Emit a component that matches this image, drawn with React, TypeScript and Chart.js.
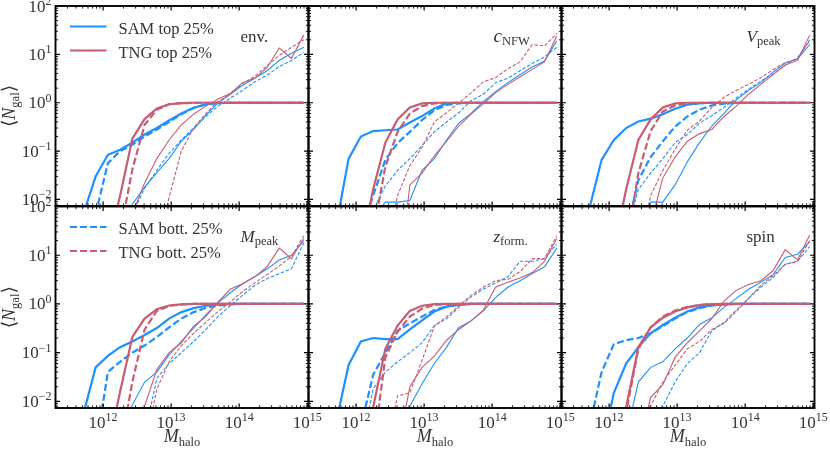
import { useEffect, useRef } from 'react';
import { Chart, registerables } from 'chart.js';

Chart.register(...registerables);

const _ = null;

// halo mass bin centres, log10(M_halo)
const logMass = [11.35, 11.53, 11.71, 11.89, 12.07, 12.25, 12.43, 12.61, 12.79, 12.97, 13.15, 13.33, 13.51, 13.69, 13.87, 14.05, 14.23, 14.41, 14.59, 14.77, 14.95];

const xTickPowers = [12, 13, 14, 15];
const yTickPowers = [-2, -1, 0, 1, 2];

// env.
const envSamTopCen = [_, _, 0.005, 0.03, 0.084, 0.107, 0.15, 0.22, 0.3, 0.43, 0.6, 0.79, 0.93, 0.98, 1, 1, 1, 1, 1, 1, 1];
const envSamBotCen = [_, _, _, 0.005, 0.056, 0.1, 0.135, 0.2, 0.28, 0.4, 0.58, 0.78, 0.92, 0.98, 1, 1, 1, 1, 1, 1, 1];
const envTngTopCen = [_, _, _, _, 0.001, 0.012, 0.18, 0.46, 0.76, 0.93, 0.98, 1, 1, 1, 1, 1, 1, 1, 1, 1, 1];
const envTngBotCen = [_, _, _, _, _, 0.002, 0.042, 0.35, 0.72, 0.93, 0.98, 1, 1, 1, 1, 1, 1, 1, 1, 1, 1];
const envSamTopSat = [_, _, _, _, _, 0.002, 0.008, 0.018, 0.036, 0.07, 0.16, 0.28, 0.55, 1.0, 1.5, 2.3, 3.2, 4.6, 7.5, 10.5, 14];
const envSamBotSat = [_, _, _, _, _, 0.001, 0.005, 0.017, 0.04, 0.09, 0.17, 0.3, 0.52, 0.85, 1.25, 1.8, 2.7, 3.7, 5.6, 7.5, 11];
const envTngTopSat = [_, _, _, _, _, 0.001, 0.005, 0.022, 0.07, 0.17, 0.35, 0.58, 0.85, 1.2, 1.55, 2.6, 3.2, 5.3, 13.5, 8.3, 25];
const envTngBotSat = [_, _, _, _, _, _, _, _, 0.0008, 0.011, 0.1, 0.3, 0.6, 1.05, 1.5, 2.5, 3.5, 5.8, 9.5, 14, 20];

// c_NFW
const cSamTopCen = [_, _, 0.003, 0.07, 0.2, 0.26, 0.27, 0.28, 0.39, 0.53, 0.76, 0.97, 1, 1, 1, 1, 1, 1, 1, 1, 1];
const cSamBotCen = [_, _, _, _, 0.002, 0.012, 0.066, 0.146, 0.25, 0.44, 0.7, 0.9, 0.97, 1, 1, 1, 1, 1, 1, 1, 1];
const cTngTopCen = [_, _, _, _, 0.001, 0.016, 0.15, 0.45, 0.8, 0.97, 1, 1, 1, 1, 1, 1, 1, 1, 1, 1, 1];
const cTngBotCen = [_, _, _, _, _, 0.002, 0.048, 0.25, 0.6, 0.85, 0.97, 1, 1, 1, 1, 1, 1, 1, 1, 1, 1];
const cSamTopSat = [_, _, _, _, _, 0.004, 0.0088, 0.0088, 0.0095, 0.04, 0.07, 0.17, 0.38, 0.6, 1.05, 1.7, 2.6, 3.8, 5.5, 7.3, 19];
const cSamBotSat = [_, _, _, _, 0.001, 0.006, 0.019, 0.04, 0.07, 0.13, 0.25, 0.4, 0.62, 1.1, 1.5, 2.6, 3.2, 4.6, 6.5, 8.8, 14];
const cTngTopSat = [_, _, _, _, _, _, _, 0.0001, 0.02, 0.035, 0.08, 0.16, 0.33, 0.58, 0.95, 1.6, 2.4, 3.4, 4.9, 7.0, 24];
const cTngBotSat = [_, _, _, _, _, _, 0.001, 0.012, 0.05, 0.12, 0.4, 0.62, 1.0, 1.6, 2.7, 3.3, 5.0, 7.0, 16, 15, 27];

// V_peak
const vSamTopCen = [_, _, 0.0065, 0.066, 0.17, 0.3, 0.41, 0.47, 0.58, 0.75, 0.91, 0.97, 1, 1, 1, 1, 1, 1, 1, 1, 1];
const vSamBotCen = [_, _, _, _, _, 0.002, 0.025, 0.075, 0.16, 0.32, 0.52, 0.72, 0.88, 0.96, 0.99, 1, 1, 1, 1, 1, 1];
const vTngTopCen = [_, _, _, _, 0.001, 0.016, 0.17, 0.45, 0.8, 0.97, 1, 1, 1, 1, 1, 1, 1, 1, 1, 1, 1];
const vTngBotCen = [_, _, _, _, _, 0.001, 0.035, 0.26, 0.66, 0.88, 0.97, 1, 1, 1, 1, 1, 1, 1, 1, 1, 1];
const vSamTopSat = [_, _, _, _, _, _, 0.003, 0.0088, 0.0088, 0.02, 0.06, 0.15, 0.33, 0.6, 1.15, 1.8, 2.6, 4.3, 6.6, 8.0, 16];
const vSamBotSat = [_, _, _, _, _, 0.002, 0.016, 0.035, 0.07, 0.15, 0.22, 0.38, 0.54, 0.8, 1.25, 1.9, 2.8, 3.9, 6.0, 8.5, 19];
const vTngTopSat = [_, _, _, _, _, _, _, 0.003, 0.028, 0.075, 0.16, 0.23, 0.28, 0.52, 0.85, 1.5, 2.4, 3.8, 6.0, 7.5, 25];
const vTngBotSat = [_, _, _, _, _, _, 0.0008, 0.012, 0.04, 0.11, 0.27, 0.42, 0.8, 1.3, 1.8, 2.4, 3.3, 4.8, 6.8, 8.0, 20];

// M_peak
const mSamTopCen = [_, _, 0.0055, 0.05, 0.086, 0.13, 0.17, 0.23, 0.32, 0.5, 0.68, 0.82, 0.92, 0.97, 1, 1, 1, 1, 1, 1, 1];
const mSamBotCen = [_, _, _, 0.001, 0.04, 0.065, 0.1, 0.14, 0.21, 0.33, 0.5, 0.68, 0.83, 0.93, 0.98, 1, 1, 1, 1, 1, 1];
const mTngTopCen = [_, _, _, _, 0.001, 0.016, 0.21, 0.5, 0.78, 0.93, 0.98, 1, 1, 1, 1, 1, 1, 1, 1, 1, 1];
const mTngBotCen = [_, _, _, _, _, 0.001, 0.025, 0.3, 0.72, 0.92, 0.98, 1, 1, 1, 1, 1, 1, 1, 1, 1, 1];
const mSamTopSat = [_, _, _, _, _, 0.002, 0.0085, 0.025, 0.04, 0.09, 0.17, 0.32, 0.6, 1.05, 1.7, 2.6, 3.6, 5.2, 8.0, 10, 20];
const mSamBotSat = [_, _, _, _, _, _, _, 0.002, 0.03, 0.06, 0.1, 0.17, 0.3, 0.55, 0.92, 1.5, 2.4, 3.3, 4.2, 5.3, 18];
const mTngTopSat = [_, _, _, _, _, _, 0.001, 0.008, 0.045, 0.1, 0.16, 0.35, 0.55, 1.1, 2.0, 2.6, 3.6, 5.8, 14, 8.5, 22];
const mTngBotSat = [_, _, _, _, _, _, _, 0.001, 0.018, 0.065, 0.14, 0.25, 0.42, 0.7, 1.1, 1.8, 2.7, 4.0, 6.0, 9.5, 25];

// z_form.
const zSamTopCen = [_, _, 0.004, 0.056, 0.17, 0.2, 0.19, 0.19, 0.3, 0.46, 0.7, 0.88, 0.96, 1, 1, 1, 1, 1, 1, 1, 1];
const zSamBotCen = [_, _, _, _, 0.003, 0.035, 0.1, 0.28, 0.4, 0.55, 0.75, 0.9, 0.97, 1, 1, 1, 1, 1, 1, 1, 1];
const zTngTopCen = [_, _, _, _, 0.001, 0.0075, 0.12, 0.36, 0.72, 0.92, 0.99, 1, 1, 1, 1, 1, 1, 1, 1, 1, 1];
const zTngBotCen = [_, _, _, _, _, 0.001, 0.08, 0.27, 0.55, 0.8, 0.95, 0.99, 1, 1, 1, 1, 1, 1, 1, 1, 1];
const zSamTopSat = [_, _, _, _, _, _, _, 0.001, 0.008, 0.023, 0.06, 0.13, 0.33, 0.45, 0.72, 1.35, 2.2, 3.0, 4.2, 5.8, 14];
const zSamBotSat = [_, _, _, _, 0.001, 0.018, 0.04, 0.065, 0.1, 0.16, 0.36, 0.5, 0.85, 1.4, 2.0, 2.7, 3.6, 7.5, 7.5, 8.5, 17];
const zTngTopSat = [_, _, _, _, _, _, _, 0.001, 0.02, 0.05, 0.085, 0.18, 0.3, 0.45, 0.75, 2.2, 2.8, 3.4, 4.4, 7.5, 22];
const zTngBotSat = [_, _, _, _, _, _, 0.001, 0.013, 0.015, 0.07, 0.35, 0.55, 0.9, 1.5, 2.2, 3.0, 3.2, 4.6, 8.5, 8.5, 25];

// spin
const sSamTopCen = [_, _, _, 0.001, 0.015, 0.06, 0.13, 0.25, 0.37, 0.52, 0.7, 0.85, 0.94, 0.98, 1, 1, 1, 1, 1, 1, 1];
const sSamBotCen = [_, _, 0.003, 0.04, 0.15, 0.18, 0.2, 0.25, 0.35, 0.5, 0.68, 0.82, 0.93, 0.98, 1, 1, 1, 1, 1, 1, 1];
const sTngTopCen = [_, _, _, _, 0.0008, 0.0075, 0.13, 0.33, 0.52, 0.7, 0.85, 0.95, 0.99, 1, 1, 1, 1, 1, 1, 1, 1];
const sTngBotCen = [_, _, _, _, 0.0008, 0.006, 0.12, 0.33, 0.55, 0.73, 0.87, 0.95, 0.99, 1, 1, 1, 1, 1, 1, 1, 1];
const sSamTopSat = [_, _, _, _, _, 0.002, 0.025, 0.05, 0.065, 0.12, 0.2, 0.38, 0.52, 0.85, 1.3, 2.0, 2.8, 4.0, 9, 10.5, 19];
const sSamBotSat = [_, _, _, _, _, _, _, 0.001, 0.008, 0.025, 0.06, 0.1, 0.28, 0.42, 0.75, 1.3, 2.2, 3.5, 6.5, 7.5, 15];
const sTngTopSat = [_, _, _, _, _, _, 0.001, 0.012, 0.022, 0.08, 0.16, 0.28, 0.5, 1.15, 1.9, 2.5, 3.0, 4.8, 13, 8, 26];
const sTngBotSat = [_, _, _, _, _, _, 0.0005, 0.008, 0.025, 0.055, 0.12, 0.17, 0.3, 0.4, 0.7, 1.3, 2.4, 3.8, 6.5, 7.5, 20];

const BLUE = '#1E90FF';
const RED = '#C95C72';
const INK = '#333333';
const SERIF = '"Liberation Serif", "DejaVu Serif", "DejaVu Sans", serif';

const W = 830;
const H = 453;
const colLeft = [55.5, 308.5, 561.5];
const colWidth = 253;
const rowTop = [6, 206.5];
const rowHeight = [200, 201.5];

// drawn top-most first
const lineStyles: Record<string, { color: string; width: number; dash: number[] }> = {
    tngTopCen: { color: RED, width: 2.2, dash: [] },
    tngBotCen: { color: RED, width: 2.2, dash: [7, 3] },
    tngTopSat: { color: RED, width: 1.1, dash: [] },
    tngBotSat: { color: RED, width: 1.1, dash: [3.5, 1.8] },
    samTopCen: { color: BLUE, width: 2.2, dash: [] },
    samBotCen: { color: BLUE, width: 2.2, dash: [7, 3] },
    samTopSat: { color: BLUE, width: 1.1, dash: [] },
    samBotSat: { color: BLUE, width: 1.1, dash: [3.5, 1.8] },
};

type Part = { t: string; it?: boolean; s?: number; dy?: number };

const panels: any[] = [
    {
        row: 0, col: 0, label: [{ t: 'env.' }],
        legend: [
            { label: 'SAM top 25%', style: lineStyles.samTopCen },
            { label: 'TNG top 25%', style: lineStyles.tngTopCen },
        ],
        series: { samTopCen: envSamTopCen, samBotCen: envSamBotCen, tngTopCen: envTngTopCen, tngBotCen: envTngBotCen, samTopSat: envSamTopSat, samBotSat: envSamBotSat, tngTopSat: envTngTopSat, tngBotSat: envTngBotSat },
    },
    {
        row: 0, col: 1, label: [{ t: 'c', it: true, s: 19 }, { t: 'NFW', s: 12.5, dy: 3 }],
        series: { samTopCen: cSamTopCen, samBotCen: cSamBotCen, tngTopCen: cTngTopCen, tngBotCen: cTngBotCen, samTopSat: cSamTopSat, samBotSat: cSamBotSat, tngTopSat: cTngTopSat, tngBotSat: cTngBotSat },
    },
    {
        row: 0, col: 2, label: [{ t: 'V', it: true }, { t: 'peak', s: 12.5, dy: 3 }],
        series: { samTopCen: vSamTopCen, samBotCen: vSamBotCen, tngTopCen: vTngTopCen, tngBotCen: vTngBotCen, samTopSat: vSamTopSat, samBotSat: vSamBotSat, tngTopSat: vTngTopSat, tngBotSat: vTngBotSat },
    },
    {
        row: 1, col: 0, label: [{ t: 'M', it: true }, { t: 'peak', s: 12.5, dy: 3 }],
        legend: [
            { label: 'SAM bott. 25%', style: lineStyles.samBotCen },
            { label: 'TNG bott. 25%', style: lineStyles.tngBotCen },
        ],
        series: { samTopCen: mSamTopCen, samBotCen: mSamBotCen, tngTopCen: mTngTopCen, tngBotCen: mTngBotCen, samTopSat: mSamTopSat, samBotSat: mSamBotSat, tngTopSat: mTngTopSat, tngBotSat: mTngBotSat },
    },
    {
        row: 1, col: 1, label: [{ t: 'z', it: true }, { t: 'form.', s: 12.5, dy: 3 }],
        series: { samTopCen: zSamTopCen, samBotCen: zSamBotCen, tngTopCen: zTngTopCen, tngBotCen: zTngBotCen, samTopSat: zSamTopSat, samBotSat: zSamBotSat, tngTopSat: zTngTopSat, tngBotSat: zTngBotSat },
    },
    {
        row: 1, col: 2, label: [{ t: 'spin' }],
        series: { samTopCen: sSamTopCen, samBotCen: sSamBotCen, tngTopCen: sTngTopCen, tngBotCen: sTngBotCen, samTopSat: sSamTopSat, samBotSat: sSamBotSat, tngTopSat: sTngTopSat, tngBotSat: sTngBotSat },
    },
];

const fontOf = (size: number, italic?: boolean) => `${italic ? 'italic ' : ''}${size}px ${SERIF}`;

function drawParts(ctx: CanvasRenderingContext2D, parts: Part[], x: number, y: number, align: 'left' | 'center' | 'right') {
    let w = 0;
    for (const p of parts) {
        ctx.font = fontOf(p.s ?? 17, p.it);
        w += ctx.measureText(p.t).width;
    }
    let cx = align === 'left' ? x : align === 'center' ? x - w / 2 : x - w;
    ctx.textAlign = 'left';
    ctx.textBaseline = 'alphabetic';
    for (const p of parts) {
        ctx.font = fontOf(p.s ?? 17, p.it);
        ctx.fillText(p.t, cx, y + (p.dy ?? 0));
        cx += ctx.measureText(p.t).width;
    }
}

const powParts = (n: number): Part[] => [
    { t: '10', s: 17 },
    { t: n < 0 ? '\u2212' + Math.abs(n) : String(n), s: 12, dy: -6.5 },
];

// frame, inward ticks, tick labels, legend and annotations
const panelDeco = {
    id: 'panelDeco',
    afterDatasetsDraw(chart: any, _args: any, opts: any) {
        const { ctx, chartArea: a } = chart;
        const xs = chart.scales.x;
        const ys = chart.scales.y;
        ctx.save();
        ctx.strokeStyle = '#000';

        for (let n = 11; n <= 15; n++) {
            for (let k = 1; k <= 9; k++) {
                const v = k * Math.pow(10, n);
                if (v < xs.min || v > xs.max) continue;
                const px = xs.getPixelForValue(v);
                const len = k === 1 ? 4.5 : 2.6;
                ctx.lineWidth = k === 1 ? 1.2 : 0.9;
                ctx.beginPath();
                ctx.moveTo(px, a.bottom);
                ctx.lineTo(px, a.bottom - len);
                ctx.moveTo(px, a.top);
                ctx.lineTo(px, a.top + len);
                ctx.stroke();
            }
        }
        for (let n = -3; n <= 2; n++) {
            for (let k = 1; k <= 9; k++) {
                const v = k * Math.pow(10, n);
                if (v < ys.min || v > ys.max) continue;
                const py = ys.getPixelForValue(v);
                const len = k === 1 ? 4.5 : 2.6;
                ctx.lineWidth = k === 1 ? 1.2 : 0.9;
                ctx.beginPath();
                ctx.moveTo(a.left, py);
                ctx.lineTo(a.left + len, py);
                ctx.moveTo(a.right, py);
                ctx.lineTo(a.right - len, py);
                ctx.stroke();
            }
        }

        ctx.lineWidth = 1.9;
        ctx.strokeRect(a.left, a.top, a.right - a.left, a.bottom - a.top);

        ctx.fillStyle = INK;
        if (opts.showY) {
            for (const n of yTickPowers) {
                const py = ys.getPixelForValue(Math.pow(10, n));
                drawParts(ctx, powParts(n), a.left - 4, py + 5.5, 'right');
            }
            ctx.save();
            ctx.translate(15, (a.top + a.bottom) / 2);
            ctx.rotate(-Math.PI / 2);
            drawParts(ctx, [
                { t: '\u27E8', s: 19 },
                { t: 'N', it: true, s: 18 },
                { t: 'gal', s: 12.5, dy: 4 },
                { t: '\u27E9', s: 19 },
            ], 0, 0, 'center');
            ctx.restore();
        }
        if (opts.showX) {
            for (const n of xTickPowers) {
                const px = xs.getPixelForValue(Math.pow(10, n));
                drawParts(ctx, powParts(n), px, a.bottom + 19.5, 'center');
            }
            drawParts(ctx, [
                { t: 'M', it: true, s: 18 },
                { t: 'halo', s: 12.5, dy: 4 },
            ], (a.left + a.right) / 2, a.bottom + 33.5, 'center');
        }

        drawParts(ctx, opts.label, a.left + 185, a.top + 35.5, 'left');

        if (opts.legend) {
            opts.legend.forEach((item: any, i: number) => {
                const ly = a.top + 20.5 + i * 24;
                ctx.strokeStyle = item.style.color;
                ctx.lineWidth = item.style.width;
                ctx.setLineDash(item.style.dash);
                ctx.beginPath();
                ctx.moveTo(a.left + 14.5, ly);
                ctx.lineTo(a.left + 51, ly);
                ctx.stroke();
                ctx.setLineDash([]);
                ctx.fillStyle = INK;
                drawParts(ctx, [{ t: item.label, s: 16.5 }], a.left + 63, ly + 7, 'left');
            });
        }
        ctx.restore();
    },
};

function PanelChart({ panel }: { panel: any }) {
    const canvasRef = useRef<HTMLCanvasElement | null>(null);

    useEffect(() => {
        if (!canvasRef.current) return;
        const left = colLeft[panel.col];
        const top = rowTop[panel.row];
        const datasets = Object.keys(lineStyles).map((key) => {
            const st = lineStyles[key];
            const vals = panel.series[key];
            const data = logMass
                .map((lm, i) => (vals[i] == null ? null : { x: Math.pow(10, lm), y: vals[i] }))
                .filter((p) => p !== null);
            return {
                label: key,
                data,
                borderColor: st.color,
                borderWidth: st.width,
                borderDash: st.dash,
                pointRadius: 0,
                tension: 0,
                fill: false,
                clip: 0,
            };
        });

        const chart = new Chart(canvasRef.current, {
            type: 'line',
            data: { datasets },
            options: {
                responsive: false,
                animation: false,
                layout: {
                    padding: {
                        left,
                        top,
                        right: W - left - colWidth,
                        bottom: H - top - rowHeight[panel.row],
                    },
                },
                scales: {
                    x: { type: 'logarithmic', min: Math.pow(10, 11.3), max: Math.pow(10, 15.02), display: false },
                    y: { type: 'logarithmic', min: Math.pow(10, -2.135), max: 100, display: false },
                },
                plugins: {
                    legend: { display: false },
                    tooltip: { enabled: false },
                    panelDeco: {
                        label: panel.label,
                        legend: panel.legend,
                        showX: panel.row === 1,
                        showY: panel.col === 0,
                    },
                },
            } as any,
            plugins: [panelDeco],
        });

        return () => {
            chart.destroy();
        };
    }, [panel]);

    return (
        <canvas
            ref={canvasRef}
            width={W}
            height={H}
            style={{ position: 'absolute', left: 0, top: 0, width: W, height: H }}
        />
    );
}

export default function App() {
    return (
        <div style={{ position: 'fixed', left: 0, top: 0, width: W, height: H, background: '#fff' }}>
            {panels.map((p, i) => (
                <PanelChart key={i} panel={p} />
            ))}
        </div>
    );
}
